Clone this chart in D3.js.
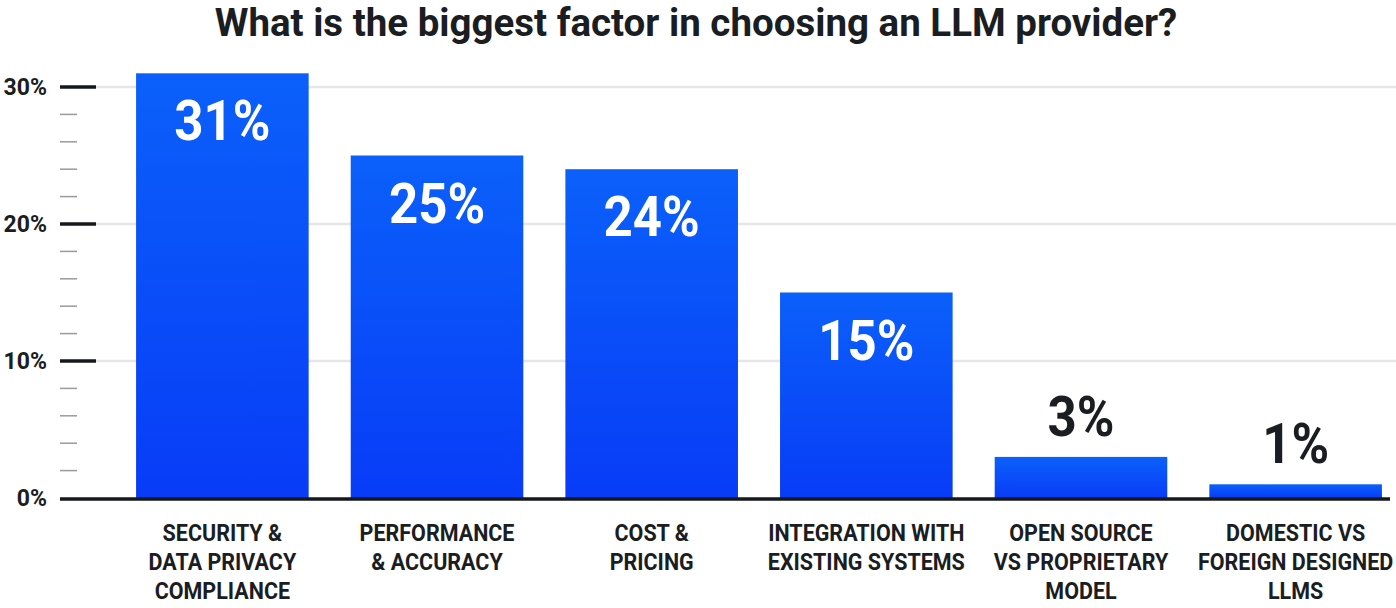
<!DOCTYPE html>
<html>
<head>
<meta charset="utf-8">
<script src="https://cdn.jsdelivr.net/npm/d3@7"></script>
<style>
  body { margin: 0; background: #fff; }
  text { font-family: Roboto, "Noto Sans", sans-serif; font-weight: 700; fill: #1a1d21; }
</style>
</head>
<body>
<svg width="1396" height="608"></svg>
<script>
const title = "What is the biggest factor in choosing an LLM provider?";
const categories = [
    ["SECURITY &", "DATA PRIVACY", "COMPLIANCE"],
    ["PERFORMANCE", "& ACCURACY"],
    ["COST &", "PRICING"],
    ["INTEGRATION WITH", "EXISTING SYSTEMS"],
    ["OPEN SOURCE", "VS PROPRIETARY", "MODEL"],
    ["DOMESTIC VS", "FOREIGN DESIGNED", "LLMS"]
];
const values = [31, 25, 24, 15, 3, 1];
const majorTicks = [0, 10, 20, 30];
const minorTicks = [2, 4, 6, 8, 12, 14, 16, 18, 22, 24, 26, 28];

const svg = d3.select("svg");

const x = d3.scaleBand()
    .domain(d3.range(values.length))
    .range([94, 1424])
    .padding(0.196);

const y = d3.scaleLinear()
    .domain([0, 30])
    .range([498, 87]);

const grad = svg.append("defs").append("linearGradient")
    .attr("id", "barFill")
    .attr("x1", 0).attr("y1", 0).attr("x2", 0).attr("y2", 1);
grad.append("stop").attr("offset", "0%").attr("stop-color", "#0b60fa");
grad.append("stop").attr("offset", "100%").attr("stop-color", "#083cf7");

// title
svg.append("text")
    .attr("x", 696).attr("y", 36)
    .attr("text-anchor", "middle")
    .style("font-size", "38.5px")
    .text(title);

// gridlines
svg.append("g").selectAll("line")
    .data(majorTicks.filter(d => d > 0))
    .join("line")
    .attr("x1", 96).attr("x2", 1396)
    .attr("y1", d => y(d)).attr("y2", d => y(d))
    .attr("stroke", "#e6e6e6")
    .attr("stroke-width", 2.5);

// minor ticks
svg.append("g").selectAll("line")
    .data(minorTicks)
    .join("line")
    .attr("x1", 60).attr("x2", 77)
    .attr("y1", d => y(d)).attr("y2", d => y(d))
    .attr("stroke", "#9a9a9a")
    .attr("stroke-width", 1.5);

// bars
svg.append("g").selectAll("rect")
    .data(values)
    .join("rect")
    .attr("x", (d, i) => x(i))
    .attr("width", x.bandwidth())
    .attr("y", d => y(d))
    .attr("height", d => y(0) - y(d))
    .attr("fill", "url(#barFill)");

// major ticks + labels
const yAxis = svg.append("g");
yAxis.selectAll("line")
    .data(majorTicks.filter(d => d > 0))
    .join("line")
    .attr("x1", 60).attr("x2", 96)
    .attr("y1", d => y(d)).attr("y2", d => y(d))
    .attr("stroke", "#15181c")
    .attr("stroke-width", 3.5);
yAxis.selectAll("text")
    .data(majorTicks)
    .join("text")
    .attr("x", 47)
    .attr("y", d => y(d) + 8)
    .attr("text-anchor", "end")
    .style("font-size", "23px")
    .text(d => d + "%");

// baseline
svg.append("line")
    .attr("x1", 60).attr("x2", 1390)
    .attr("y1", y(0) + 1).attr("y2", y(0) + 1)
    .attr("stroke", "#15181c")
    .attr("stroke-width", 3.5);

// value labels
svg.append("g").selectAll("text")
    .data(values)
    .join("text")
    .attr("transform", (d, i) => {
        const ty = d >= 10 ? y(d) + 67 : y(d) - 21;
        return `translate(${x(i) + x.bandwidth() / 2},${ty}) scale(0.91,1)`;
    })
    .attr("text-anchor", "middle")
    .style("font-size", "56px")
    .style("fill", d => d >= 10 ? "#fff" : "#1a1d21")
    .text(d => d + "%");

// category labels
const cat = svg.append("g").selectAll("text")
    .data(categories)
    .join("text")
    .attr("transform", (d, i) => `translate(${x(i) + x.bandwidth() / 2},541) scale(0.935,1)`)
    .attr("text-anchor", "middle")
    .style("font-size", "23px");
cat.selectAll("tspan")
    .data(d => d)
    .join("tspan")
    .attr("x", 0)
    .attr("y", (d, j) => j * 29)
    .text(d => d);
</script>
</body>
</html>
